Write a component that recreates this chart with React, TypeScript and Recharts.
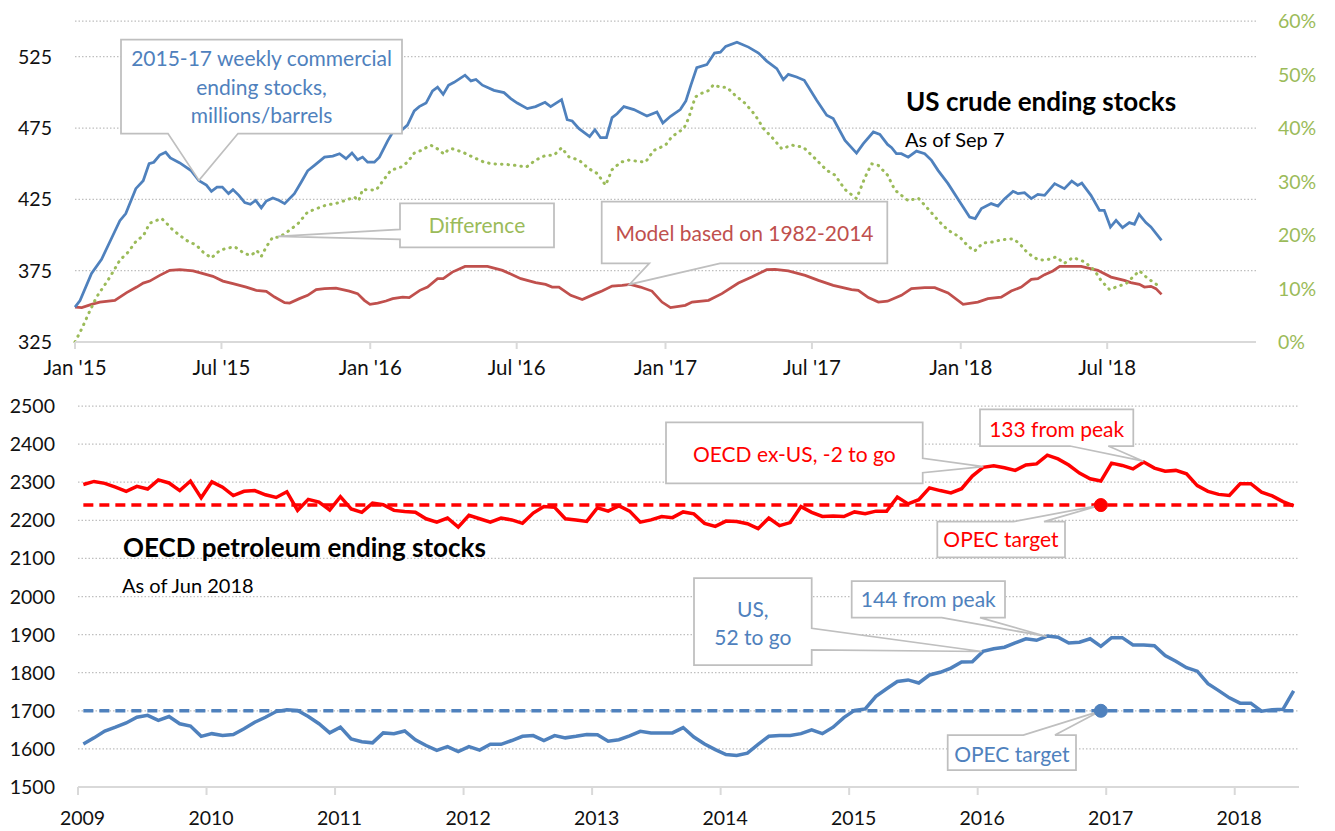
import React from 'react';
import { LineChart, Line, XAxis, YAxis, CartesianGrid, ReferenceDot } from 'recharts';

const FONT = "Lato, 'Open Sans', sans-serif";
const BLUE = '#4F81BD';
const MODEL_RED = '#C0504D';
const GREEN = '#9BBB59';
const RED = '#FF0000';
const BOX = '#BFBFBF';
const GRID = '#BFBFBF';
const AXIS = '#D9D9D9';
const TXT = '#111111';

// ---------- Top chart: US crude ending stocks (years since Jan 1 2015, value) ----------
const usCommercialStocks: [number, number][] = [
  [0.000, 349.5], [0.017, 354], [0.056, 373], [0.090, 383], [0.129, 400], [0.152, 410], [0.172, 415],
  [0.206, 432.5], [0.231, 438], [0.251, 450], [0.267, 451], [0.287, 456], [0.307, 458], [0.323, 454],
  [0.355, 450.5], [0.394, 445], [0.420, 438], [0.445, 435], [0.462, 430.6], [0.481, 433.6], [0.499, 433.6],
  [0.520, 429], [0.535, 431.8], [0.555, 427.8], [0.575, 422.7], [0.594, 421.5], [0.612, 424.3], [0.631, 419],
  [0.648, 423.8], [0.670, 426], [0.690, 424.3], [0.710, 422], [0.743, 429], [0.766, 437], [0.788, 445],
  [0.811, 448.8], [0.845, 454.6], [0.873, 455.3], [0.896, 457], [0.918, 453.5], [0.938, 457.5], [0.957, 452.8],
  [0.974, 454.6], [0.991, 451], [1.014, 451], [1.031, 454.6], [1.059, 466], [1.076, 472], [1.098, 472],
  [1.126, 477], [1.149, 487], [1.166, 490], [1.189, 492.5], [1.211, 501], [1.228, 503.7], [1.247, 498.6],
  [1.265, 505], [1.284, 507], [1.321, 512], [1.341, 508], [1.358, 509], [1.380, 505], [1.419, 501.4],
  [1.453, 499.8], [1.476, 495.6], [1.498, 492.5], [1.532, 488.6], [1.560, 490], [1.592, 493], [1.611, 490],
  [1.648, 494.9], [1.667, 480.8], [1.684, 479.9], [1.707, 474.5], [1.743, 469], [1.761, 473.8], [1.780, 468.2],
  [1.800, 468.2], [1.819, 482.3], [1.836, 485], [1.859, 490], [1.893, 487.9], [1.937, 483.4], [1.971, 486.2],
  [1.991, 478.5], [2.017, 483.2], [2.050, 487.9], [2.069, 494], [2.086, 505], [2.106, 517.3], [2.140, 519.4],
  [2.166, 527.5], [2.186, 528.2], [2.204, 532.2], [2.242, 535.2], [2.281, 531.7], [2.315, 527.5], [2.343, 521.9],
  [2.377, 516.6], [2.399, 508.9], [2.416, 512.6], [2.444, 510.7], [2.470, 508.4], [2.512, 494.4], [2.546, 483.9],
  [2.568, 481.6], [2.608, 466.3], [2.647, 457.4], [2.670, 464], [2.704, 472.2], [2.726, 470.5], [2.752, 463.5],
  [2.766, 461.2], [2.782, 457], [2.799, 457], [2.822, 454.6], [2.850, 458.8], [2.878, 457], [2.901, 452.3],
  [2.923, 445.3], [2.957, 436], [2.997, 423.1], [3.030, 412.6], [3.049, 411.5], [3.070, 418.5], [3.103, 422],
  [3.126, 420.3], [3.149, 425.5], [3.177, 430.6], [3.194, 429], [3.216, 429.7], [3.239, 425.5], [3.261, 428.5],
  [3.284, 427.8], [3.318, 436], [3.351, 432.5], [3.376, 437.8], [3.396, 434.8], [3.410, 436.4], [3.441, 427.8],
  [3.470, 417.3], [3.486, 417.3], [3.507, 405.6], [3.526, 410.3], [3.548, 405.2], [3.571, 408.7], [3.588, 407.5],
  [3.604, 414.5], [3.627, 408.7], [3.644, 405.6], [3.680, 396.3],
];

const modelStocks: [number, number][] = [
  [0.000, 349.5], [0.023, 349.1], [0.056, 351.4], [0.084, 353], [0.135, 354.2], [0.175, 359.6], [0.209, 363.5],
  [0.231, 366.3], [0.253, 367.7], [0.287, 371.7], [0.321, 375.2], [0.355, 375.7], [0.400, 374.8], [0.434, 372.9],
  [0.467, 371], [0.501, 367.7], [0.535, 365.9], [0.580, 363.5], [0.614, 361.2], [0.648, 360.5], [0.676, 356.5],
  [0.710, 352.6], [0.727, 352.3], [0.760, 355.4], [0.788, 357.7], [0.817, 361.7], [0.845, 362.4], [0.884, 362.8],
  [0.929, 360.7], [0.957, 358.9], [0.980, 354.2], [0.999, 351.4], [1.025, 352.3], [1.053, 353.7], [1.076, 355.4],
  [1.110, 356.5], [1.132, 356.1], [1.168, 361.2], [1.194, 363.5], [1.228, 369.4], [1.247, 369.4], [1.278, 374],
  [1.321, 378], [1.397, 378], [1.448, 375.2], [1.510, 369.4], [1.560, 366.6], [1.594, 365.4], [1.616, 363.5],
  [1.639, 363.5], [1.679, 357.7], [1.718, 354.7], [1.763, 358.9], [1.785, 360.7], [1.819, 364.2], [1.853, 364.7],
  [1.881, 365.4], [1.915, 363.5], [1.954, 360.7], [1.988, 353], [2.017, 349.1], [2.067, 350.7], [2.090, 353],
  [2.146, 354.2], [2.191, 358.9], [2.247, 366.3], [2.292, 370.5], [2.343, 375.7], [2.371, 375.9], [2.416, 374.8],
  [2.473, 371.7], [2.518, 368.2], [2.568, 364.7], [2.630, 361.7], [2.653, 361.2], [2.687, 356.1], [2.721, 353],
  [2.752, 353.6], [2.799, 357.7], [2.833, 362.4], [2.878, 363.1], [2.912, 363.1], [2.957, 359.4], [3.008, 351.4],
  [3.058, 353], [3.092, 355.4], [3.137, 356.5], [3.171, 360.7], [3.205, 363.5], [3.239, 368.9], [3.261, 369.4],
  [3.284, 372.2], [3.312, 374.8], [3.335, 378], [3.408, 378], [3.464, 375.2], [3.509, 370.5], [3.554, 368.2],
  [3.576, 366.6], [3.605, 365.4], [3.622, 363.5], [3.644, 364], [3.661, 362.4], [3.680, 358.4],
];

// percent
const differencePct: [number, number][] = [
  [0.000, 0], [0.023, 2.5], [0.051, 5.9], [0.073, 8.4], [0.118, 12.1], [0.152, 15.3], [0.180, 16.8],
  [0.209, 19.0], [0.231, 19.8], [0.253, 22.2], [0.293, 23.1], [0.310, 22.2], [0.332, 20.9], [0.377, 19.0],
  [0.411, 18.1], [0.434, 16.8], [0.462, 15.7], [0.490, 17.1], [0.513, 17.5], [0.541, 17.8], [0.575, 16.5],
  [0.597, 16.2], [0.616, 17.1], [0.631, 16.0], [0.648, 17.8], [0.670, 19.6], [0.693, 19.6], [0.727, 20.9],
  [0.755, 22.1], [0.788, 24.3], [0.817, 24.9], [0.851, 25.6], [0.884, 25.9], [0.918, 26.5], [0.946, 27.1],
  [0.961, 26.4], [0.974, 28.5], [1.020, 28.4], [1.048, 30.5], [1.070, 32.1], [1.104, 32.7], [1.126, 33.6],
  [1.149, 35.3], [1.172, 35.8], [1.205, 36.8], [1.228, 36.1], [1.250, 35.1], [1.265, 36.0], [1.278, 36.1],
  [1.312, 35.5], [1.346, 34.6], [1.386, 33.6], [1.414, 33.3], [1.459, 33.2], [1.493, 33.0], [1.529, 32.7],
  [1.560, 34.0], [1.594, 34.9], [1.622, 34.9], [1.648, 36.3], [1.673, 34.6], [1.707, 34.0], [1.740, 32.4],
  [1.769, 31.5], [1.797, 29.3], [1.819, 32.2], [1.848, 33.6], [1.876, 34.0], [1.932, 33.6], [1.960, 35.8],
  [2.000, 36.8], [2.022, 38.4], [2.062, 39.9], [2.078, 41.8], [2.101, 45.8], [2.123, 46.5], [2.146, 47.0],
  [2.163, 48.1], [2.186, 47.6], [2.208, 47.6], [2.236, 46.1], [2.270, 44.6], [2.304, 42.4], [2.332, 39.9],
  [2.360, 38.3], [2.394, 36.1], [2.428, 36.8], [2.467, 36.4], [2.501, 34.6], [2.546, 32.1], [2.574, 31.2],
  [2.608, 28.5], [2.647, 26.8], [2.676, 30.8], [2.698, 33.3], [2.721, 33.0], [2.752, 31.2], [2.777, 28.4],
  [2.822, 26.4], [2.856, 26.9], [2.889, 24.9], [2.929, 22.4], [2.957, 20.9], [2.997, 19.6], [3.025, 17.9],
  [3.047, 17.0], [3.075, 18.5], [3.109, 18.7], [3.137, 19.1], [3.177, 19.3], [3.199, 18.4], [3.227, 16.6],
  [3.261, 15.4], [3.289, 15.3], [3.323, 15.9], [3.351, 14.7], [3.380, 15.8], [3.419, 15.0], [3.453, 13.4],
  [3.475, 11.5], [3.504, 9.8], [3.532, 10.4], [3.560, 10.9], [3.582, 12.1], [3.605, 13.3], [3.633, 11.9],
  [3.667, 10.6],
];

const TOP_START_YEAR = 2015;
const topXTicks = [2015, 2015.496, 2016, 2016.496, 2017, 2017.496, 2018, 2018.496];
const topXTickLabels = ["Jan '15", "Jul '15", "Jan '16", "Jul '16", "Jan '17", "Jul '17", "Jan '18", "Jul '18"];
const topLeftTicks = [325, 375, 425, 475, 525];
const topRightTicks = [0, 0.1, 0.2, 0.3, 0.4, 0.5, 0.6];
const topRightTickLabels = ['0%', '10%', '20%', '30%', '40%', '50%', '60%'];

// ---------- Bottom chart: OECD petroleum ending stocks, monthly Jan 2009 - Jun 2018 ----------
const BOTTOM_START_YEAR = 2009;
const oecdExUsStocks = [
  2294, 2302, 2297, 2287, 2276, 2289, 2282, 2306, 2298, 2278, 2303, 2259,
  2301, 2287, 2265, 2276, 2278, 2267, 2260, 2275, 2226, 2255, 2248, 2227,
  2262, 2230, 2221, 2245, 2241, 2226, 2223, 2221, 2204, 2195, 2206, 2182,
  2213, 2204, 2195, 2206, 2201, 2192, 2219, 2236, 2234, 2204, 2201, 2197,
  2233, 2224, 2238, 2224, 2195, 2201, 2210, 2207, 2222, 2217, 2192, 2184,
  2198, 2197, 2191, 2178, 2206, 2186, 2194, 2236, 2221, 2210, 2211, 2210,
  2222, 2217, 2224, 2224, 2261, 2243, 2254, 2285, 2278, 2272, 2283, 2316,
  2339, 2343, 2338, 2331, 2345, 2348, 2371, 2361, 2345, 2324, 2309, 2303,
  2350, 2344, 2335, 2353, 2337, 2329, 2331, 2322, 2291, 2276, 2268, 2265,
  2296, 2296, 2274, 2264, 2249, 2238,
];
const usStocks = [
  1613, 1629, 1647, 1657, 1668, 1683, 1688, 1675, 1685, 1666, 1660, 1633,
  1640, 1635, 1638, 1653, 1670, 1683, 1698, 1703, 1701, 1685, 1666, 1642,
  1657, 1626, 1619, 1616, 1642, 1640, 1647, 1624, 1609, 1596, 1606, 1593,
  1606, 1597, 1612, 1612, 1622, 1633, 1635, 1622, 1635, 1629, 1633, 1638,
  1637, 1620, 1624, 1634, 1646, 1642, 1642, 1642, 1656, 1631, 1613, 1598,
  1585, 1583, 1589, 1612, 1633, 1635, 1635, 1640, 1650, 1640, 1657, 1682,
  1701, 1705, 1738, 1758, 1777, 1781, 1773, 1794, 1801, 1812, 1828, 1829,
  1856, 1863, 1867, 1878, 1889, 1885, 1896, 1893, 1878, 1880, 1889, 1869,
  1892, 1892, 1873, 1873, 1871, 1845, 1830, 1813, 1804, 1771, 1753, 1734,
  1720, 1720, 1699, 1703, 1704, 1752,
];
const OECD_EXUS_TARGET = 2240;
const US_TARGET = 1700;
const TARGET_MONTH = 95; // Dec 2016
const bottomXTicks = [2009, 2010, 2011, 2012, 2013, 2014, 2015, 2016, 2017, 2018];
const bottomXTickLabels = ['2009', '2010', '2011', '2012', '2013', '2014', '2015', '2016', '2017', '2018'];
const bottomYTicks = [1500, 1600, 1700, 1800, 1900, 2000, 2100, 2200, 2300, 2400, 2500];

// ---------- derived data ----------
const blueData = usCommercialStocks.map(([o, v]) => ({ t: TOP_START_YEAR + o, v }));
const modelData = modelStocks.map(([o, v]) => ({ t: TOP_START_YEAR + o, v }));
const diffData = differencePct.map(([o, v]) => ({ t: TOP_START_YEAR + o, v: v / 100 }));
const monthT = (m: number) => BOTTOM_START_YEAR + (m + 0.5) / 12;
const bottomData = oecdExUsStocks.map((v, i) => ({
  t: monthT(i),
  exus: v,
  us: usStocks[i],
  exusTarget: OECD_EXUS_TARGET,
  usTarget: US_TARGET,
}));

// ---------- callouts ----------
type Side = 'top' | 'bottom' | 'left' | 'right';
type CalloutSpec = {
  box: [number, number, number, number];
  side: Side;
  base: [number, number];
  lines: [string, number][];
  cx: number;
  color: string;
};

function calloutPath(spec: CalloutSpec, tx: number, ty: number, oy: number) {
  const [x0, y0r, x1, y1r] = spec.box;
  const y0 = y0r - oy;
  const y1 = y1r - oy;
  let [a, b] = spec.base;
  if (spec.side === 'left' || spec.side === 'right') {
    a -= oy;
    b -= oy;
  }
  let pts: [number, number][];
  switch (spec.side) {
    case 'bottom':
      pts = [[x0, y0], [x1, y0], [x1, y1], [b, y1], [tx, ty], [a, y1], [x0, y1]];
      break;
    case 'top':
      pts = [[x0, y0], [a, y0], [tx, ty], [b, y0], [x1, y0], [x1, y1], [x0, y1]];
      break;
    case 'left':
      pts = [[x0, y0], [x1, y0], [x1, y1], [x0, y1], [x0, b], [tx, ty], [x0, a]];
      break;
    default:
      pts = [[x0, y0], [x1, y0], [x1, a], [tx, ty], [x1, b], [x1, y1], [x0, y1]];
  }
  return 'M' + pts.map((p) => p[0].toFixed(1) + ',' + p[1].toFixed(1)).join('L') + 'Z';
}

function makeCallout(spec: CalloutSpec, oy: number) {
  return (p: any) => {
    const tx = p.cx;
    const ty = p.cy;
    return (
      <g>
        <path d={calloutPath(spec, tx, ty, oy)} fill="#fff" stroke={BOX} strokeWidth={1.75} strokeLinejoin="miter" />
        {spec.lines.map(([s, y], i) => (
          <text key={i} x={spec.cx} y={y - oy} textAnchor="middle" fontSize={21} fill={spec.color} fontFamily={FONT}>
            {s}
          </text>
        ))}
      </g>
    );
  };
}

const blueNote: CalloutSpec = {
  box: [121, 39.5, 402, 133.5], side: 'bottom', base: [168, 238],
  lines: [['2015-17 weekly commercial', 66], ['ending stocks,', 95], ['millions/barrels', 123]],
  cx: 261.5, color: BLUE,
};
const diffNote: CalloutSpec = {
  box: [400, 203.3, 554, 247.3], side: 'left', base: [229.3, 239.3],
  lines: [['Difference', 233]], cx: 477, color: GREEN,
};
const modelNote: CalloutSpec = {
  box: [601.7, 201.7, 887.3, 263.3], side: 'bottom', base: [649.3, 720],
  lines: [['Model based on 1982-2014', 240.5]], cx: 744.5, color: MODEL_RED,
};

const BOTTOM_TOP = 386;
const exusNote: CalloutSpec = {
  box: [666, 422.3, 922.7, 483.3], side: 'right', base: [458.3, 472.7],
  lines: [['OECD ex-US, -2 to go', 461.5]], cx: 794.3, color: RED,
};
const redPeakNote: CalloutSpec = {
  box: [980, 409.3, 1133.3, 446], side: 'bottom', base: [1070, 1108.3],
  lines: [['133 from peak', 436.5]], cx: 1056.7, color: RED,
};
const redTargetNote: CalloutSpec = {
  box: [937.3, 521.7, 1065, 557.3], side: 'top', base: [1013.3, 1044],
  lines: [['OPEC target', 547.3]], cx: 1001, color: RED,
};
const usNote: CalloutSpec = {
  box: [694, 578, 811.7, 665], side: 'right', base: [628.3, 650],
  lines: [['US,', 616.5], ['52 to go', 645]], cx: 752.8, color: BLUE,
};
const bluePeakNote: CalloutSpec = {
  box: [851.7, 581, 1005, 617.7], side: 'bottom', base: [941.7, 980],
  lines: [['144 from peak', 607.3]], cx: 928.3, color: BLUE,
};
const blueTargetNote: CalloutSpec = {
  box: [947.7, 735, 1076, 770], side: 'top', base: [1023.3, 1055],
  lines: [['OPEC target', 761.5]], cx: 1011.8, color: BLUE,
};

// ---------- ticks ----------
const makeXTick = (ticks: number[], labels: string[], dx: number, dy: number, fs: number) => (p: any) => {
  const v = p.payload?.value;
  let idx = ticks.findIndex((t) => Math.abs(t - v) < 1e-6);
  if (idx < 0) idx = p.index ?? 0;
  return (
    <text x={p.x + dx} y={p.y + dy} textAnchor="middle" fontSize={fs} fill={TXT} fontFamily={FONT}>
      {labels[idx]}
    </text>
  );
};
const leftTick = (p: any) => (
  <text x={p.x} y={p.y} dy={7} textAnchor="end" fontSize={19.5} fill={TXT} fontFamily={FONT}>
    {p.payload?.value}
  </text>
);
const rightTick = (p: any) => {
  const v = p.payload?.value;
  const idx = topRightTicks.findIndex((t) => Math.abs(t - v) < 1e-6);
  return (
    <text x={p.x} y={p.y} dy={7} textAnchor="start" fontSize={19.5} fill={GREEN} fontFamily={FONT}>
      {topRightTickLabels[idx]}
    </text>
  );
};

export default function App() {
  return (
    <div style={{ position: 'absolute', left: 0, top: 0, width: 1335, height: 831, background: '#fff', overflow: 'hidden' }}>
      <div style={{ position: 'absolute', left: 0, top: 0 }}>
        <LineChart width={1335} height={386} margin={{ top: 21, right: 0, bottom: 0, left: 0 }}>
          <CartesianGrid yAxisId="left" vertical={false} stroke={GRID} strokeWidth={1.25} strokeDasharray="1.5 2" />
          <XAxis
            dataKey="t" type="number" domain={[2015, 2019]} ticks={topXTicks} interval={0} height={44}
            tickSize={7} tickMargin={0} axisLine={{ stroke: AXIS, strokeWidth: 2 }} tickLine={{ stroke: AXIS, strokeWidth: 2 }}
            tick={makeXTick(topXTicks, topXTickLabels, 0, 26, 20.5)} allowDuplicatedCategory={false}
          />
          <YAxis
            yAxisId="left" orientation="left" width={75} domain={[325, 550]} ticks={topLeftTicks} interval={0}
            axisLine={false} tickLine={false} tickSize={0} tickMargin={23} tick={leftTick}
          />
          <YAxis
            yAxisId="right" orientation="right" width={79} domain={[0, 0.6]} ticks={topRightTicks} interval={0}
            axisLine={false} tickLine={false} tickSize={0} tickMargin={22} tick={rightTick}
          />
          <Line yAxisId="left" data={modelData} dataKey="v" type="linear" stroke={MODEL_RED} strokeWidth={2.75} dot={false} isAnimationActive={false} />
          <Line yAxisId="right" data={diffData} dataKey="v" type="linear" stroke={GREEN} strokeWidth={3} strokeDasharray="0.5 6" strokeLinecap="round" dot={false} isAnimationActive={false} />
          <Line yAxisId="left" data={blueData} dataKey="v" type="linear" stroke={BLUE} strokeWidth={2.75} dot={false} isAnimationActive={false} />
          <ReferenceDot yAxisId="left" x={2015.42} y={438.3} ifOverflow="visible" shape={makeCallout(blueNote, 0)} />
          <ReferenceDot yAxisId="right" x={2015.687} y={0.1976} ifOverflow="visible" shape={makeCallout(diffNote, 0)} />
          <ReferenceDot yAxisId="left" x={2016.878} y={365.4} ifOverflow="visible" shape={makeCallout(modelNote, 0)} />
        </LineChart>
      </div>
      <div style={{ position: 'absolute', left: 0, top: BOTTOM_TOP }}>
        <LineChart width={1335} height={445} data={bottomData} margin={{ top: 20, right: 36, bottom: 0, left: 0 }}>
          <CartesianGrid vertical={false} stroke={GRID} strokeWidth={1.25} strokeDasharray="1.5 2" />
          <XAxis
            dataKey="t" type="number" domain={[2009, 2018.5]} ticks={bottomXTicks} interval={0} height={44}
            tickSize={8} tickMargin={0} axisLine={{ stroke: AXIS, strokeWidth: 2 }} tickLine={{ stroke: AXIS, strokeWidth: 2 }}
            tick={makeXTick(bottomXTicks, bottomXTickLabels, 4.5, 30, 19.5)}
          />
          <YAxis
            width={78} domain={[1500, 2500]} ticks={bottomYTicks} interval={0}
            axisLine={false} tickLine={false} tickSize={0} tickMargin={23} tick={leftTick}
          />
          <Line dataKey="exusTarget" type="linear" stroke={RED} strokeWidth={3.5} strokeDasharray="10 6" dot={false} isAnimationActive={false} />
          <Line dataKey="usTarget" type="linear" stroke={BLUE} strokeWidth={3.5} strokeDasharray="10 6" dot={false} isAnimationActive={false} />
          <Line dataKey="exus" type="linear" stroke={RED} strokeWidth={3.5} dot={false} isAnimationActive={false} />
          <Line dataKey="us" type="linear" stroke={BLUE} strokeWidth={3.5} dot={false} isAnimationActive={false} />
          <ReferenceDot x={2016.044} y={2341} ifOverflow="visible" shape={makeCallout(exusNote, BOTTOM_TOP)} />
          <ReferenceDot x={2017.289} y={2355} ifOverflow="visible" shape={makeCallout(redPeakNote, BOTTOM_TOP)} />
          <ReferenceDot x={2016.032} y={1855.6} ifOverflow="visible" shape={makeCallout(usNote, BOTTOM_TOP)} />
          <ReferenceDot x={2016.537} y={1895} ifOverflow="visible" shape={makeCallout(bluePeakNote, BOTTOM_TOP)} />
          <ReferenceDot x={monthT(TARGET_MONTH)} y={OECD_EXUS_TARGET} ifOverflow="visible" shape={makeCallout(redTargetNote, BOTTOM_TOP)} />
          <ReferenceDot x={monthT(TARGET_MONTH)} y={US_TARGET} ifOverflow="visible" shape={makeCallout(blueTargetNote, BOTTOM_TOP)} />
          <ReferenceDot x={monthT(TARGET_MONTH)} y={OECD_EXUS_TARGET} r={6.5} fill={RED} stroke={RED} ifOverflow="visible" />
          <ReferenceDot x={monthT(TARGET_MONTH)} y={US_TARGET} r={6.5} fill={BLUE} stroke={BLUE} ifOverflow="visible" />
        </LineChart>
      </div>
      <svg width={1335} height={831} style={{ position: 'absolute', left: 0, top: 0, pointerEvents: 'none' }}>
        <text x={906} y={111} fontSize={26} fontWeight={700} fill="#000" fontFamily={FONT}>US crude ending stocks</text>
        <text x={905} y={147} fontSize={20} fill="#000" fontFamily={FONT}>As of Sep 7</text>
        <text x={123} y={556.5} fontSize={26} fontWeight={700} fill="#000" fontFamily={FONT}>OECD petroleum ending stocks</text>
        <text x={122} y={593} fontSize={20} fill="#000" fontFamily={FONT}>As of Jun 2018</text>
      </svg>
    </div>
  );
}
